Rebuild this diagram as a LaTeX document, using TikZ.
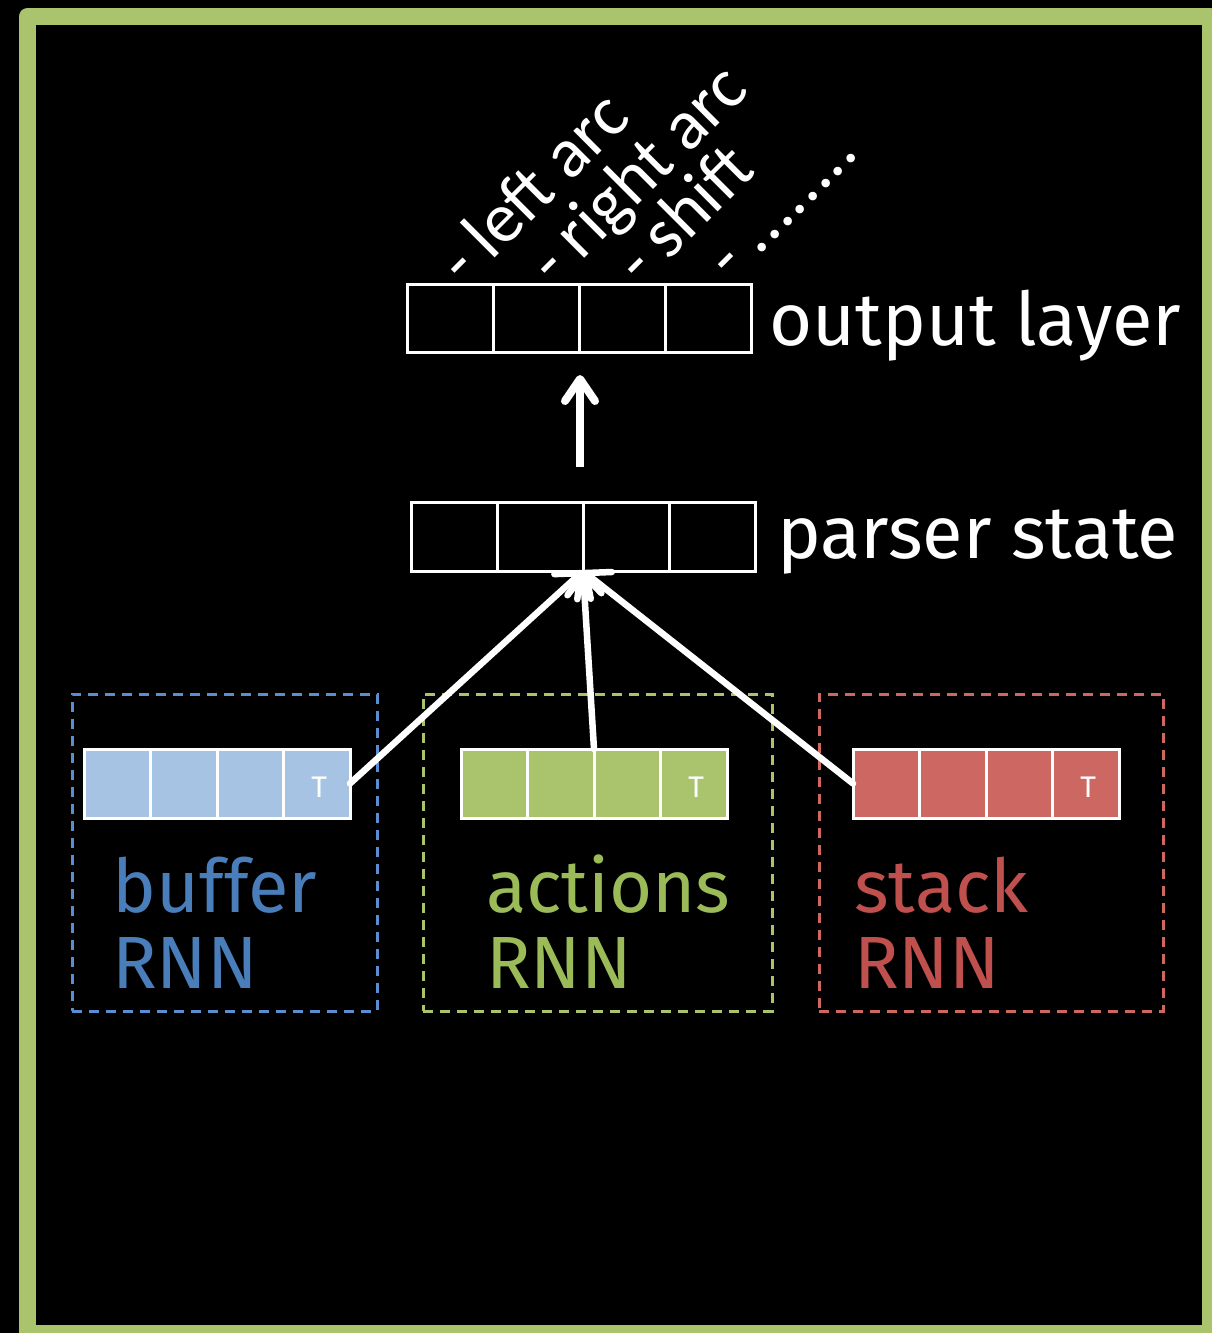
\documentclass[tikz,border=0pt]{standalone}
\usepackage{fontspec}
\setmainfont{Carlito}
\newfontfamily\chalkfont{Fira Sans}
\usetikzlibrary{arrows.meta,calc}

\definecolor{framegreen}{HTML}{A9C46C}
\definecolor{buffill}{HTML}{A7C3E3}
\definecolor{actfill}{HTML}{A9C46C}
\definecolor{stkfill}{HTML}{CD6762}
\definecolor{bufline}{HTML}{5B8ED0}
\definecolor{actline}{HTML}{A9C46C}
\definecolor{stkline}{HTML}{CF6660}
\definecolor{buftext}{HTML}{4A7EBB}
\definecolor{acttext}{HTML}{9BBB59}
\definecolor{stktext}{HTML}{C0504D}

\begin{document}
\begin{tikzpicture}[x=1pt,y=-1pt,
  cell/.style={draw=white, line width=3pt, minimum width=86pt, minimum height=68pt,
    inner sep=0pt, outer sep=0pt},
  rnncell/.style={draw=white, line width=3pt, minimum width=66.5pt, minimum height=69pt,
    inner sep=0pt, outer sep=0pt, fill=#1},
  topmark/.style={text=white, font=\fontsize{32}{36}\selectfont, inner sep=0pt},
  group/.style={draw=#1, line width=3pt, dash pattern=on 10pt off 7pt,
    inner sep=0pt, outer sep=0pt},
  chalk/.style={text=#1, font=\chalkfont\fontsize{74}{88}\selectfont,
    anchor=base west, inner sep=0pt},
  action/.style={text=white, font=\fontsize{71}{80}\selectfont, rotate=45,
    anchor=base west, inner sep=0pt},
  feed/.style={draw=white, line width=6.5pt, line cap=round,
    -{Straight Barb[length=20pt,width=34pt,line cap=round,line join=round]}},
  lift/.style={draw=white, line width=8pt,
    -{Straight Barb[length=22pt,width=30pt,line cap=round,line join=round]}},
  frame/.style={draw=framegreen, line width=17pt, line join=round}
]
% page and background
\useasboundingbox (0,0) rectangle (1212,1333);
\fill[black] (0,0) rectangle (1212,1333);
\draw[frame] (27.5,16.5) rectangle (1210.5,1333.5);

% output layer
\node[cell] (o1) at (450,318) {};
\node[cell] (o2) at (536,318) {};
\node[cell] (o3) at (622,318) {};
\node[cell] (o4) at (708,318) {};
\node[chalk=white] (outlabel) at (769,345) {output layer};

% transition labels above the output units
\node[action] (leftarc)  at ($(o1.north)+(15,4)$)  {- left arc};
\node[action] (rightarc) at ($(o2.north)+(19,4)$) {- right arc};
\node[action] (shift)    at ($(o3.north)+(20,4)$) {- shift};
\node[action] (more)     at ($(o4.north)+(24,-1)$) {- ........};

% parser state
\node[cell, minimum height=69pt] (ps1) at (454,536.5) {};
\node[cell, minimum height=69pt] (ps2) at (540,536.5) {};
\node[cell, minimum height=69pt] (ps3) at (626,536.5) {};
\node[cell, minimum height=69pt] (ps4) at (712,536.5) {};
\node[chalk=white] (pslabel) at (777,558) {parser state};

% groups
\node[group=bufline, minimum width=305pt, minimum height=317pt] (bufgroup) at (224.5,852.5) {};
\node[group=actline, minimum width=349pt, minimum height=317pt] (actgroup) at (597.5,852.5) {};
\node[group=stkline, minimum width=344pt, minimum height=317pt] (stkgroup) at (991,852.5) {};

% buffer RNN
\node[rnncell=buffill] (buf1) at (117.25,783.5) {};
\node[rnncell=buffill] (buf2) at (183.75,783.5) {};
\node[rnncell=buffill] (buf3) at (250.25,783.5) {};
\node[rnncell=buffill] (buf4) at (316.75,783.5) {};
\node[topmark] (bufT) at ($(buf4.center)+(2.5,3.5)$) {T};
\node[chalk=buftext] (buflabel) at (112,912) {buffer};
\node[chalk=buftext] (bufrnn) at (112,988) {RNN};

% actions RNN
\node[rnncell=actfill] (act1) at (494.25,783.5) {};
\node[rnncell=actfill] (act2) at (560.75,783.5) {};
\node[rnncell=actfill] (act3) at (627.25,783.5) {};
\node[rnncell=actfill] (act4) at (693.75,783.5) {};
\node[topmark] (actT) at ($(act4.center)+(2.5,3.5)$) {T};
\node[chalk=acttext] (actlabel) at (486,912) {actions};
\node[chalk=acttext] (actrnn) at (486,988) {RNN};

% stack RNN
\node[rnncell=stkfill] (stk1) at (886.25,783.5) {};
\node[rnncell=stkfill] (stk2) at (952.75,783.5) {};
\node[rnncell=stkfill] (stk3) at (1019.25,783.5) {};
\node[rnncell=stkfill] (stk4) at (1085.75,783.5) {};
\node[topmark] (stkT) at ($(stk4.center)+(2.5,3.5)$) {T};
\node[chalk=stktext] (stklabel) at (854,912) {stack};
\node[chalk=stktext] (stkrnn) at (854,988) {RNN};

% connections into the parser state
\draw[feed] (buf4.east) -- (ps2.south east);
\draw[feed] (act2.north east) -- (ps2.south east);
\draw[feed] (stk1.west) -- (ps2.south east);

% parser state to output layer
\coordinate (upfoot) at ($(ps2.north east)+(-3,-35)$);
\coordinate (uptip) at ($(o2.south east)+(1,23)$);
\draw[lift] (upfoot) -- (uptip);
\end{tikzpicture}
\end{document}
